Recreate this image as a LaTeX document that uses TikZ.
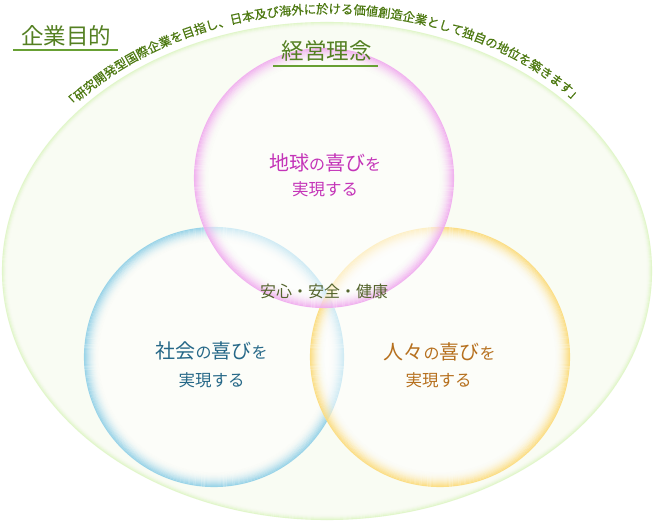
\documentclass[tikz,border=0pt]{standalone}
\usepackage{fontspec}
\newfontfamily\cjk{Noto Sans CJK JP}
\newfontfamily\cjkb[FakeBold=0.6]{Noto Sans CJK JP}
\usetikzlibrary{decorations.text}
\definecolor{bgfill}{RGB}{249,252,243}
\definecolor{elline}{RGB}{224,246,200}
\definecolor{pinkrim}{RGB}{240,168,238}
\definecolor{bluerim}{RGB}{140,206,230}
\definecolor{yelrim}{RGB}{251,218,118}
\definecolor{headcol}{RGB}{84,128,34}
\definecolor{ulcol}{RGB}{104,160,52}
\definecolor{curvecol}{RGB}{76,120,16}
\definecolor{pinktxt}{RGB}{196,52,184}
\definecolor{bluetxt}{RGB}{38,104,136}
\definecolor{yeltxt}{RGB}{182,112,30}
\definecolor{midtxt}{RGB}{84,100,44}
\tikzset{
  txt/.style={inner sep=0pt, anchor=base, font=\cjk},
  ulline/.style={draw=ulcol, line width=1.2pt},
  circfill/.style={fill=white, fill opacity=0.55},
}
\newcommand{\sk}[1]{{\fontsize{16}{16}\selectfont #1}}
\begin{document}
\begin{tikzpicture}[x=1pt,y=1pt]
\useasboundingbox (0,0) rectangle (653,522);
\fill[white] (0,0) rectangle (653,522);
% big ellipse
\coordinate (E) at (327,251);
\fill[bgfill] (E) ellipse [x radius=325, y radius=249];
\foreach \k [evaluate=\k as \op using 0.9*(1-\k/5)^2] in {0,...,4}
  \draw[elline, opacity=\op, line width=1.1pt] (E) ellipse [x radius=324.5-\k, y radius=248.5-\k];
% circles
\coordinate (B) at (214,165);
\coordinate (Y) at (440,165);
\coordinate (P) at (324,344);
\foreach \c/\col in {B/bluerim, Y/yelrim, P/pinkrim}{
  \fill[circfill] (\c) circle (130);
  \foreach \k [evaluate=\k as \op using 0.85*(1-\k/15)^2.2] in {0,...,14}
    \draw[\col, opacity=\op, line width=1.1pt] (\c) circle (129.5-\k);
}
% headings
\node[txt, font=\cjk\fontsize{22.5}{22.5}\selectfont, text=headcol] (h1) at (66,477.5) {企業目的};
\draw[ulline] (13,472) coordinate (u1a) -- (118,472) coordinate (u1b);
\node[txt, font=\cjk\fontsize{22.5}{22.5}\selectfont, text=headcol] (h2) at (326.5,462.5) {経営理念};
\draw[ulline] (273,456) coordinate (u2a) -- (378,456) coordinate (u2b);
% circle texts
\node[txt, font=\cjk\fontsize{20}{20}\selectfont, text=pinktxt] (p1) at (325,351) {地球\sk{の}喜び\sk{を}};
\node[txt, font=\cjk\fontsize{16.5}{16.5}\selectfont, text=pinktxt] (p2) at (325,326.7) {実現する};
\node[txt, font=\cjk\fontsize{20}{20}\selectfont, text=bluetxt] (b1) at (211.5,163) {社会\sk{の}喜び\sk{を}};
\node[txt, font=\cjk\fontsize{16.5}{16.5}\selectfont, text=bluetxt] (b2) at (211.5,135.2) {実現する};
\node[txt, font=\cjk\fontsize{20}{20}\selectfont, text=yeltxt] (y1) at (439.5,162) {人々\sk{の}喜び\sk{を}};
\node[txt, font=\cjk\fontsize{16.5}{16.5}\selectfont, text=yeltxt] (y2) at (438.5,135.2) {実現する};
\node[txt, font=\cjk\fontsize{16}{16}\selectfont, text=midtxt] (m) at (324,224.4) {安心・安全・健康};
% curved text
\path[decorate, decoration={text along path, text align=center,
  text={|\cjkb\fontsize{12.3}{12.3}\selectfont\color{curvecol}|「研究開発型国際企業を目指し、日本及び海外に於ける価値創造企業として独自の地位を築きます」}}]
  (E) ++(157:330 and 257.5) arc [start angle=157, end angle=25, x radius=330, y radius=257.5];
\end{tikzpicture}
\end{document}
